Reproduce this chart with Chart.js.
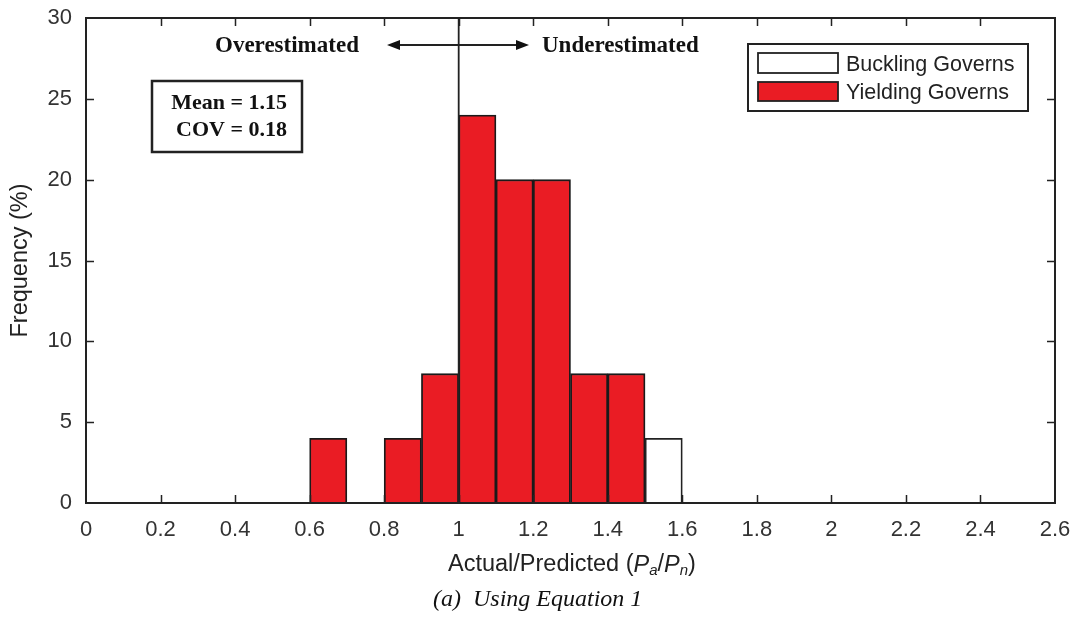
<!DOCTYPE html>
<html>
<head>
<meta charset="utf-8">
<script src="https://cdn.jsdelivr.net/npm/chart.js@4/dist/chart.umd.min.js"></script>
<style>
  html, body { margin: 0; padding: 0; background: #fff; }
  #wrap { width: 1076px; height: 617px; }
</style>
</head>
<body>
<div id="wrap"><canvas id="histChart" width="1076" height="617"></canvas></div>
<script>
// histogram bins (left edge of each 0.1-wide bin) and frequencies in %
const binWidth = 0.1;
const yieldingBins = [0.6, 0.8, 0.9, 1.0, 1.1, 1.2, 1.3, 1.4];
const yieldingFreq = [4, 4, 8, 24, 20, 20, 8, 8];
const bucklingBins = [1.5];
const bucklingFreq = [4];

const xTicks = [0, 0.2, 0.4, 0.6, 0.8, 1, 1.2, 1.4, 1.6, 1.8, 2, 2.2, 2.4, 2.6];
const yTicks = [0, 5, 10, 15, 20, 25, 30];

const meanText = 'Mean = 1.15';
const covText = 'COV = 0.18';

const RED = '#ea1c24';
const INK = '#222';
const SANS = '"Liberation Sans", Arial, sans-serif';
const SERIF = '"Liberation Serif", "Times New Roman", serif';

function toPoints(bins, freq) {
    return bins.map((b, i) => ({ x: b + binWidth / 2, y: freq[i] }));
}

// frame, inward ticks, reference line and annotation boxes
const decorations = {
    id: 'decorations',
    afterDatasetsDraw(chart) {
        const ctx = chart.ctx;
        const { left, right, top, bottom } = chart.chartArea;
        const xs = chart.scales.x, ys = chart.scales.y;
        const tl = 8;

        ctx.save();
        ctx.strokeStyle = INK;
        ctx.lineWidth = 2;
        ctx.strokeRect(left, top, right - left, bottom - top);

        ctx.lineWidth = 1.5;
        ctx.beginPath();
        xTicks.slice(1, -1).forEach(v => {
            const px = Math.round(xs.getPixelForValue(v)) + 0.5;
            ctx.moveTo(px, bottom); ctx.lineTo(px, bottom - tl);
            ctx.moveTo(px, top); ctx.lineTo(px, top + tl);
        });
        yTicks.slice(1, -1).forEach(v => {
            const py = Math.round(ys.getPixelForValue(v)) + 0.5;
            ctx.moveTo(left, py); ctx.lineTo(left + tl, py);
            ctx.moveTo(right, py); ctx.lineTo(right - tl, py);
        });
        ctx.stroke();

        // vertical line at actual/predicted = 1
        const x1 = xs.getPixelForValue(1);
        ctx.lineWidth = 1.8;
        ctx.beginPath();
        ctx.moveTo(x1, top); ctx.lineTo(x1, bottom);
        ctx.stroke();

        // over / under estimated arrow
        const ay = 45;
        const aL = 387, aR = 529;
        ctx.lineWidth = 2;
        ctx.beginPath();
        ctx.moveTo(aL + 6, ay); ctx.lineTo(aR - 6, ay);
        ctx.stroke();
        ctx.fillStyle = '#111';
        ctx.beginPath();
        ctx.moveTo(aL, ay); ctx.lineTo(aL + 13, ay - 5); ctx.lineTo(aL + 13, ay + 5); ctx.closePath();
        ctx.moveTo(aR, ay); ctx.lineTo(aR - 13, ay - 5); ctx.lineTo(aR - 13, ay + 5); ctx.closePath();
        ctx.fill();

        ctx.font = 'bold 23px ' + SERIF;
        ctx.textBaseline = 'middle';
        ctx.textAlign = 'left';
        ctx.fillText('Overestimated', 215, ay + 1);
        ctx.fillText('Underestimated', 542, ay + 1);

        // statistics box
        ctx.lineWidth = 2.5;
        ctx.strokeRect(152, 81, 150, 71);
        ctx.font = 'bold 22px ' + SERIF;
        ctx.textAlign = 'right';
        ctx.fillText(meanText, 287, 103);
        ctx.fillText(covText, 287, 130);

        // legend
        ctx.lineWidth = 2;
        ctx.strokeRect(748, 44, 280, 67);
        ctx.lineWidth = 1.8;
        ctx.fillStyle = '#fff';
        ctx.fillRect(758, 53, 80, 20);
        ctx.strokeRect(758, 53, 80, 20);
        ctx.fillStyle = RED;
        ctx.fillRect(758, 82, 80, 19);
        ctx.strokeRect(758, 82, 80, 19);
        ctx.fillStyle = INK;
        ctx.font = '21.5px ' + SANS;
        ctx.textAlign = 'left';
        ctx.fillText('Buckling Governs', 846, 65);
        ctx.fillText('Yielding Governs', 846, 93);

        // x-axis title with italic P and subscripts
        const parts = [
            { t: 'Actual/Predicted (', f: '23.5px ' + SANS, dy: 0 },
            { t: 'P', f: 'italic 23.5px ' + SANS, dy: 0 },
            { t: 'a', f: 'italic 15px ' + SANS, dy: 6 },
            { t: '/', f: '23.5px ' + SANS, dy: 0 },
            { t: 'P', f: 'italic 23.5px ' + SANS, dy: 0 },
            { t: 'n', f: 'italic 15px ' + SANS, dy: 6 },
            { t: ')', f: '23.5px ' + SANS, dy: 0 }
        ];
        parts.forEach(p => { ctx.font = p.f; p.w = ctx.measureText(p.t).width; });
        let tx = 448;
        const ty = 565;
        parts.forEach(p => {
            ctx.font = p.f;
            ctx.fillText(p.t, tx, ty + p.dy);
            tx += p.w;
        });

        // caption
        ctx.font = 'italic 24px ' + SERIF;
        ctx.textAlign = 'left';
        ctx.fillStyle = '#111';
        ctx.fillText('(a)  Using Equation 1', 433, 600);
        ctx.restore();
    }
};

const ctx = document.getElementById('histChart').getContext('2d');
new Chart(ctx, {
    type: 'bar',
    data: {
        datasets: [
            {
                label: 'Buckling Governs',
                data: toPoints(bucklingBins, bucklingFreq),
                backgroundColor: '#fff',
                borderColor: '#222',
                borderWidth: 1.8,
                borderSkipped: 'start',
                barPercentage: 1,
                categoryPercentage: 1,
                grouped: false
            },
            {
                label: 'Yielding Governs',
                data: toPoints(yieldingBins, yieldingFreq),
                backgroundColor: RED,
                borderColor: '#1a1a1a',
                borderWidth: 1.8,
                borderSkipped: 'start',
                barPercentage: 1,
                categoryPercentage: 1,
                grouped: false
            }
        ]
    },
    options: {
        responsive: false,
        animation: false,
        layout: { padding: { left: 0, right: 21, top: 18, bottom: 0 } },
        plugins: {
            legend: { display: false },
            tooltip: { enabled: false }
        },
        scales: {
            x: {
                type: 'linear',
                min: 0,
                max: 2.6,
                offset: false,
                grid: { display: false, drawTicks: false },
                border: { display: false },
                afterBuildTicks: s => { s.ticks = xTicks.map(v => ({ value: v })); },
                afterFit: s => {
                    s.height = 114;
                    s.paddingLeft = 0;
                    s.paddingRight = 0;
                },
                ticks: {
                    padding: 14,
                    color: '#333',
                    font: { family: SANS, size: 22 },
                    maxRotation: 0,
                    autoSkip: false,
                    callback: v => String(Number(v.toFixed(1)))
                }
            },
            y: {
                min: 0,
                max: 30,
                grid: { display: false, drawTicks: false },
                border: { display: false },
                afterBuildTicks: s => { s.ticks = yTicks.map(v => ({ value: v })); },
                afterFit: s => {
                    s.width = 86;
                    s.paddingTop = 0;
                    s.paddingBottom = 0;
                },
                ticks: {
                    padding: 14,
                    color: '#333',
                    font: { family: SANS, size: 22 }
                },
                title: {
                    display: true,
                    text: 'Frequency (%)',
                    color: INK,
                    padding: { top: 6, bottom: 0 },
                    font: { family: SANS, size: 23.5 }
                }
            }
        }
    },
    plugins: [decorations]
});
</script>
</body>
</html>
